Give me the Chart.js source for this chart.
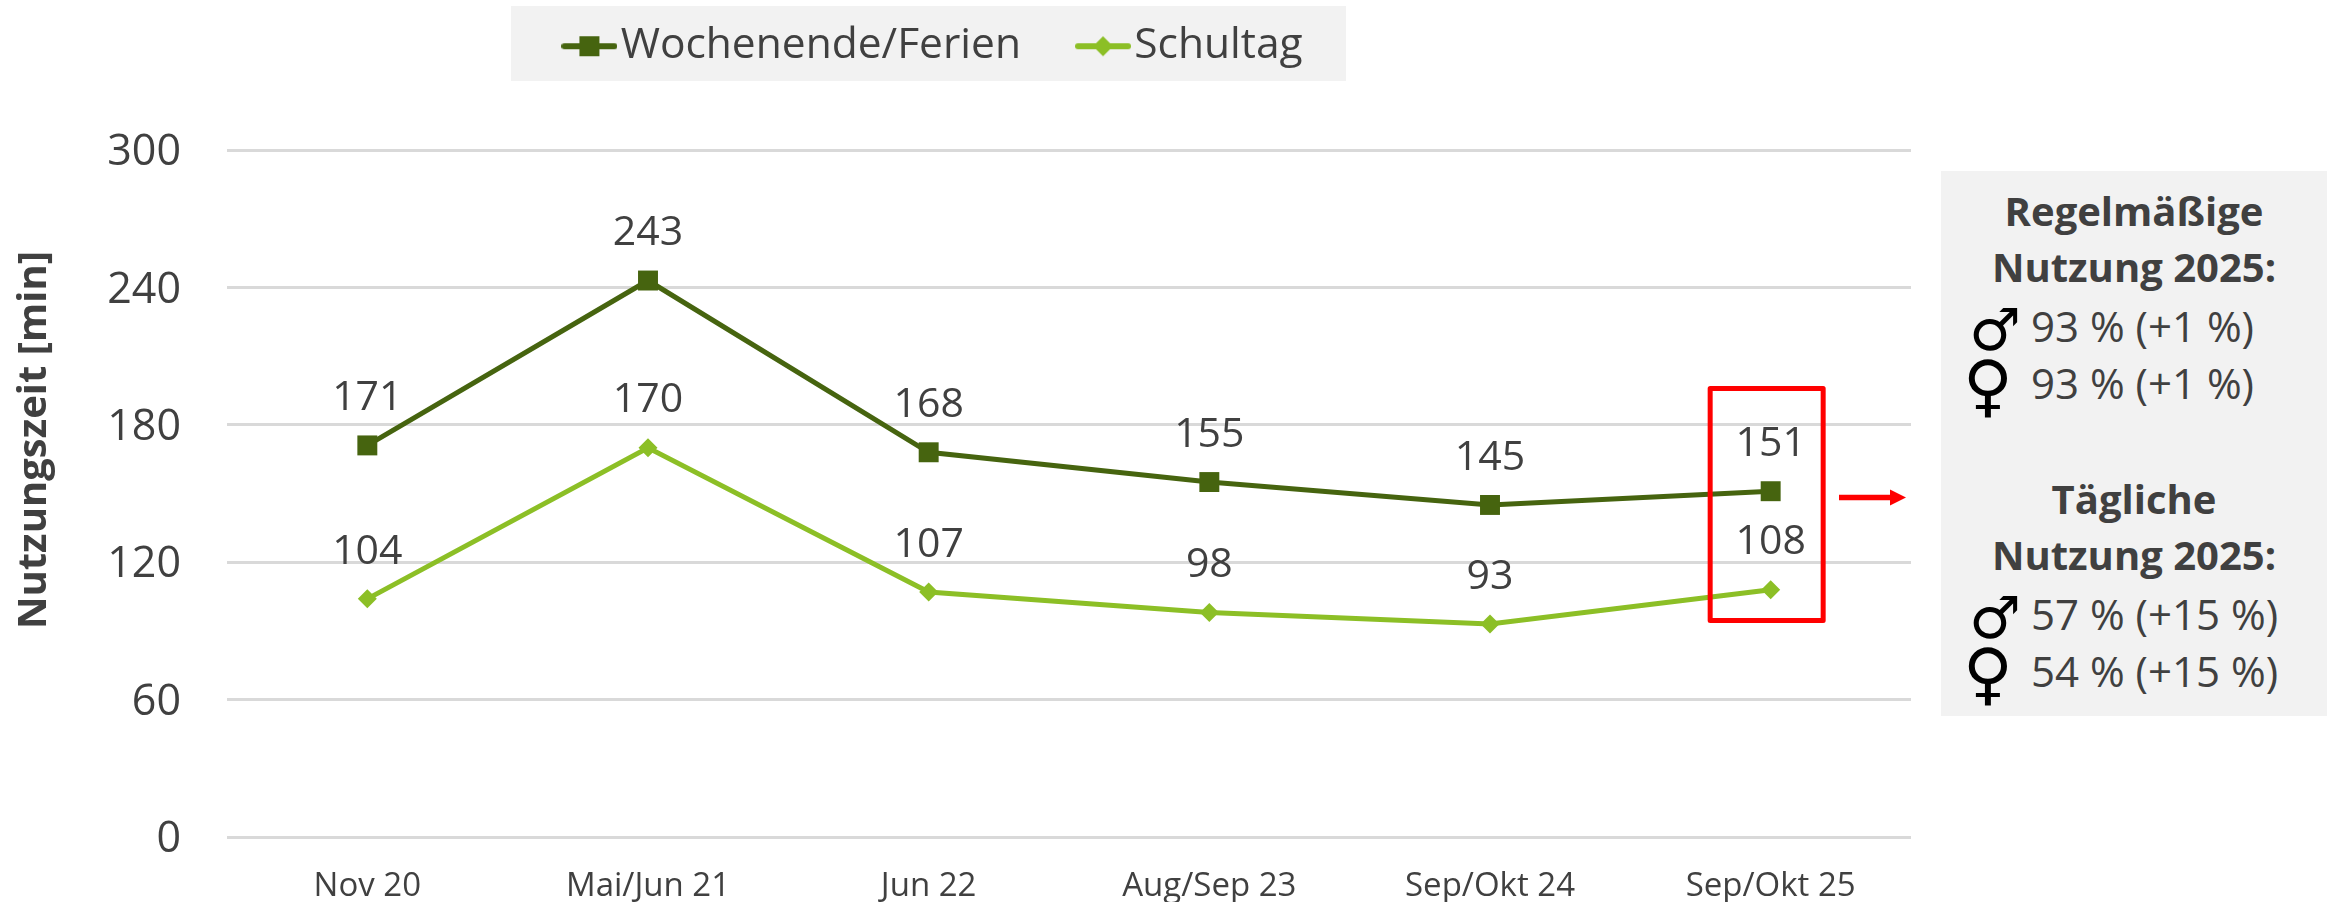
<!DOCTYPE html>
<html lang="de"><head><meta charset="utf-8">
<script src="https://cdn.jsdelivr.net/npm/chart.js@4/dist/chart.umd.min.js"></script>
<style>
html,body{margin:0;padding:0;background:#fff;overflow:hidden}
#wrap{position:relative;width:2338px;height:902px}
canvas{position:absolute;left:0;top:0}
#panel{position:absolute;left:1941px;top:171px;width:386px;height:545px;background:#f2f2f2;color:#404040;font-family:"Open Sans",sans-serif}
#panel div{position:absolute;white-space:nowrap;line-height:58px;height:58px}
#panel .h{left:0;width:386px;text-align:center;font-weight:700;font-size:40px}
#panel .v{left:90px;font-size:42px}
#panel .s{left:26px;width:56px;text-align:center;color:#000;font-family:"DejaVu Sans";font-size:58px;font-weight:700}
#panel .s.f{font-size:68px;left:19px;font-weight:400}
</style></head><body>
<div id="wrap"><canvas id="c" width="2338" height="902"></canvas><div id="panel"></div></div>
<script>
const categories=["Nov 20","Mai/Jun 21","Jun 22","Aug/Sep 23","Sep/Okt 24","Sep/Okt 25"];
const wochenende=[171,243,168,155,145,151];
const schultag=[104,170,107,98,93,108];
const yTicks=[0,60,120,180,240,300];
const seriesNames=["Wochenende/Ferien","Schultag"];
const axisTitle="Nutzungszeit [min]";
const panelHeadings=[["Regelmäßige","Nutzung 2025:"],["Tägliche","Nutzung 2025:"]];
const panelValues=[["93 % (+1 %)","93 % (+1 %)"],["57 % (+15 %)","54 % (+15 %)"]];
const DARK="#46640f",LIGHT="#8cbf26",TXT="#404040",FONT='"Open Sans",sans-serif';

// panel
const panel=document.getElementById('panel');
const add=(cls,txt,y)=>{const d=document.createElement('div');d.className=cls;d.textContent=txt;d.style.top=y+'px';panel.appendChild(d);};
const symbols=["♂","♀"];
[0,288].forEach((off,b)=>{
  add('h',panelHeadings[b][0],11+off);
  add('h',panelHeadings[b][1],67+off);
  [0,1].forEach(i=>{add(i?'s f':'s',symbols[i],(i?186:130)+off);add('v',panelValues[b][i],(i?183:126)+off);});
});

// legend swatches: line + marker
function swatch(color,shape){
  const c=document.createElement('canvas');c.width=56;c.height=24;
  const x=c.getContext('2d');
  x.strokeStyle=color;x.lineWidth=6;x.lineCap='round';
  x.beginPath();x.moveTo(3,12);x.lineTo(53,12);x.stroke();
  x.fillStyle=color;
  if(shape==='rect'){x.fillRect(18,2,20,20);}
  else{x.beginPath();x.moveTo(28,2);x.lineTo(38,12);x.lineTo(28,22);x.lineTo(18,12);x.closePath();x.fill();}
  return c;
}
const swatches=[swatch(DARK,'rect'),swatch(LIGHT,'rectRot')];

const overlay={
  id:'overlay',
  beforeLayout(ch){
    const l=ch.legend;
    if(!l._wrapped){const f=l.fit.bind(l);l.fit=()=>{f();l.height=150;};l._wrapped=true;}
  },
  afterUpdate(ch){
    const l=ch.legend,dx=941-(l.left+l.right)/2;
    l.left+=dx;l.right+=dx;
    l.legendHitBoxes.forEach(b=>b.left+=dx);
    l.top=25-72;
  },
  beforeDraw(ch){
    const g=ch.ctx;g.save();g.fillStyle='#f2f2f2';g.fillRect(511,6,835,75);g.restore();
  },
  afterDatasetsDraw(ch){
    const g=ch.ctx,xs=ch.scales.x,ys=ch.scales.y;
    g.save();
    g.font='41px '+FONT;g.fillStyle=TXT;g.textAlign='center';g.textBaseline='middle';
    ch.data.datasets.forEach(ds=>ds.data.forEach((v,i)=>{
      g.fillText(String(v),xs.getPixelForValue(i),ys.getPixelForValue(v)-47);
    }));
    // axis title
    g.save();g.translate(35,440);g.rotate(-Math.PI/2);g.font='700 40px '+FONT;g.fillText(axisTitle,0,0);g.restore();
    // highlight frame around the last category
    const xc=xs.getPixelForValue(5);
    g.strokeStyle='#ff0000';g.lineWidth=5;g.lineJoin='round';
    g.strokeRect(xc-60.5,ys.getPixelForValue(195.9),113,ys.getPixelForValue(94.5)-ys.getPixelForValue(195.9));
    // arrow
    const ay=497.5,x0=1839,x1=1906;
    g.lineWidth=5.5;g.beginPath();g.moveTo(x0,ay);g.lineTo(x1-12,ay);g.stroke();
    g.fillStyle='#ff0000';g.beginPath();g.moveTo(x1,ay);g.lineTo(x1-16,ay-8);g.lineTo(x1-16,ay+8);g.closePath();g.fill();
    g.restore();
  }
};

new Chart(document.getElementById('c'),{
  type:'line',
  data:{labels:categories,datasets:[
    {label:seriesNames[0],data:wochenende,borderColor:DARK,backgroundColor:DARK,borderWidth:5,pointStyle:'rect',pointRadius:14.1,pointHoverRadius:14.1,pointBorderWidth:0,tension:0,order:2},
    {label:seriesNames[1],data:schultag,borderColor:LIGHT,backgroundColor:LIGHT,borderWidth:5,pointStyle:'rectRot',pointRadius:9.5,pointHoverRadius:9.5,pointBorderWidth:0,tension:0,order:1}
  ]},
  options:{
    responsive:false,animation:false,
    layout:{padding:{left:0,right:427,top:0,bottom:0}},
    plugins:{
      tooltip:{enabled:false},
      legend:{
        display:true,position:'top',
        labels:{
          color:TXT,font:{family:FONT,size:42.5},usePointStyle:true,pointStyleWidth:20,padding:72,
          generateLabels(ch){return ch.data.datasets.map((d,i)=>({text:d.label,pointStyle:swatches[i],datasetIndex:i,fontColor:TXT,hidden:false,lineWidth:0,strokeStyle:'transparent',fillStyle:'transparent'}));}
        }
      }
    },
    scales:{
      x:{
        offset:true,
        grid:{display:false},border:{display:false},
        ticks:{color:TXT,font:{family:FONT,size:33},maxRotation:0,padding:22,autoSkip:false},
        afterFit(s){s.height=65;s.paddingLeft=0;s.paddingRight=0;}
      },
      y:{
        min:0,max:300,
        afterBuildTicks(s){s.ticks=yTicks.map(v=>({value:v}));},
        grid:{color:'#d9d9d9',lineWidth:3,drawTicks:false},border:{display:false},
        ticks:{color:TXT,font:{family:FONT,size:43},padding:46,labelOffset:3},
        afterFit(s){s.width=227;s.paddingTop=0;s.paddingBottom=0;}
      }
    }
  },
  plugins:[overlay]
});
</script>
</body></html>
